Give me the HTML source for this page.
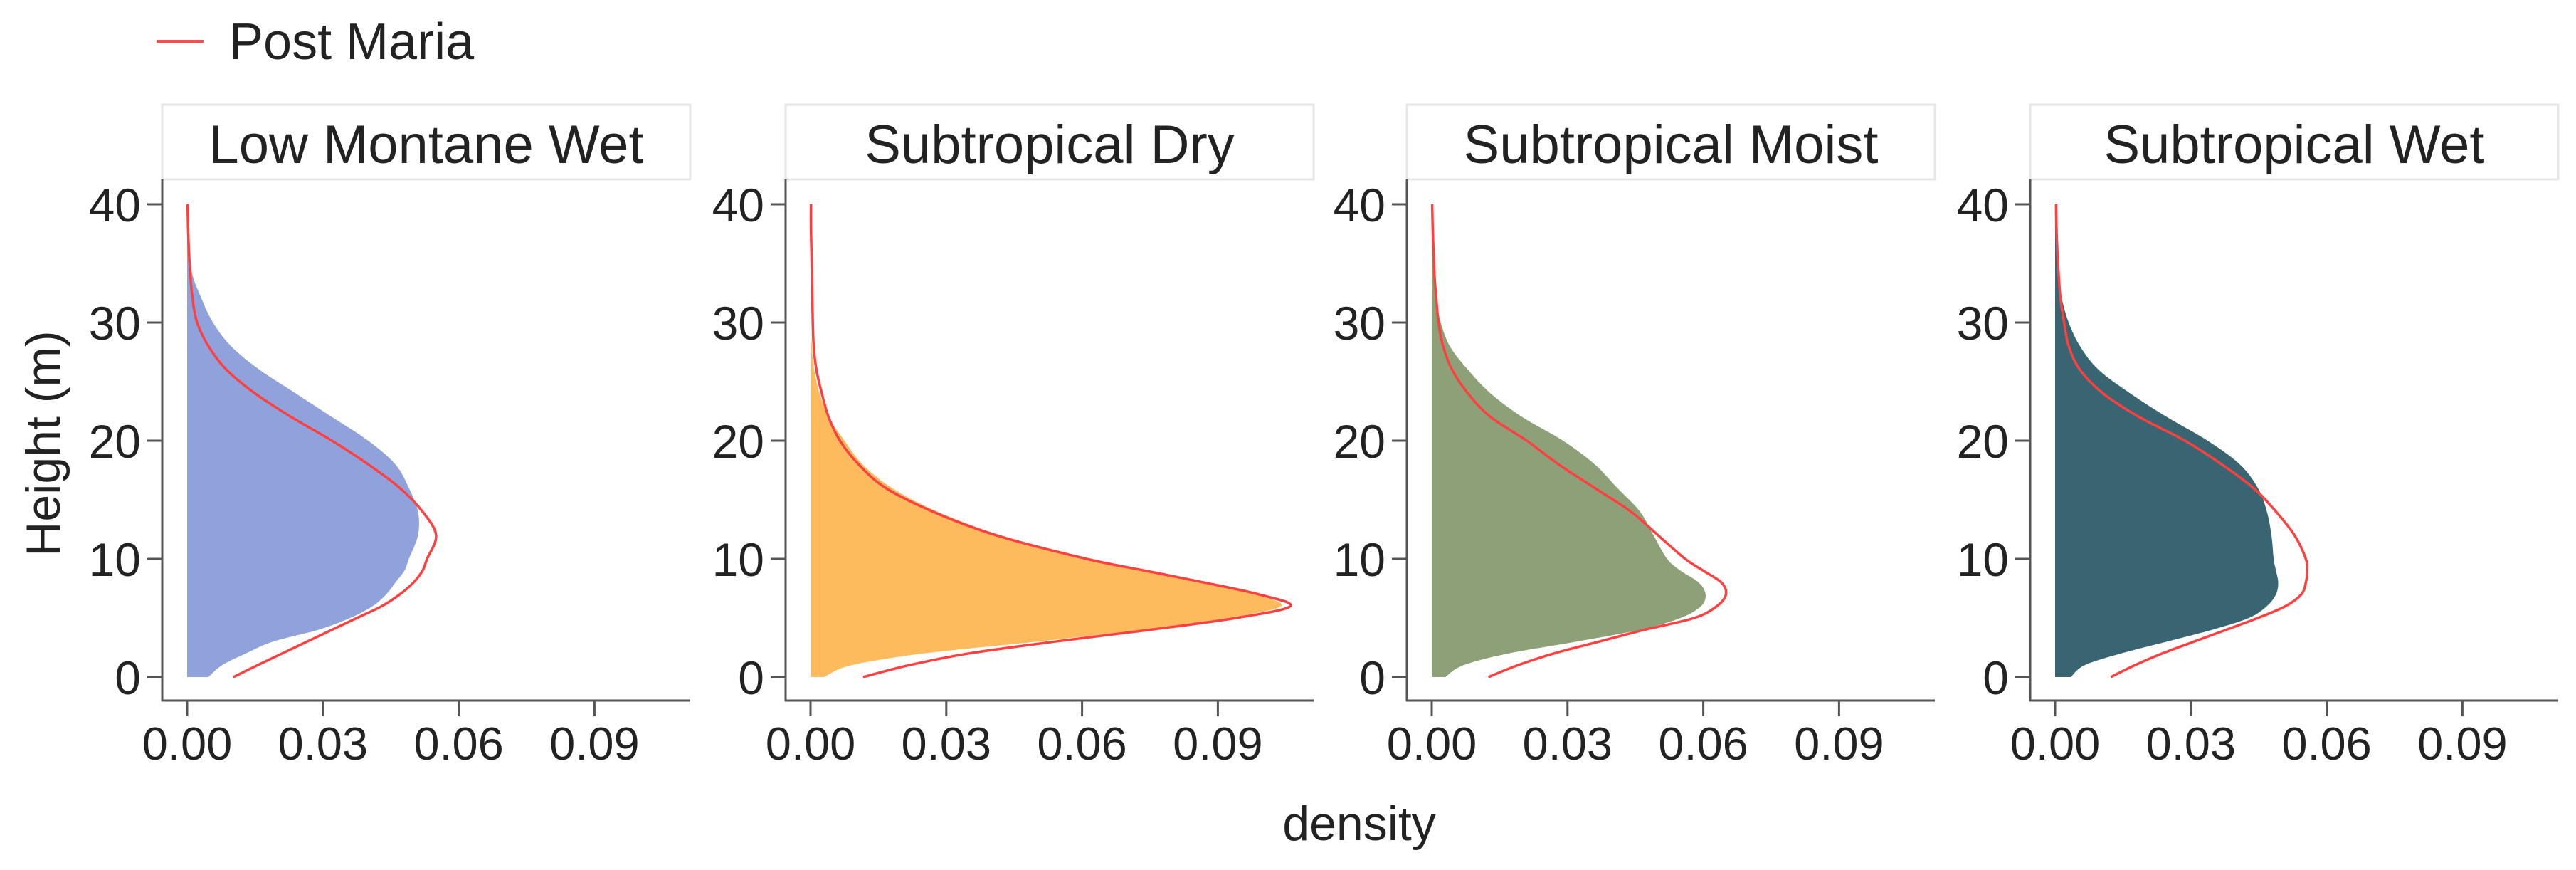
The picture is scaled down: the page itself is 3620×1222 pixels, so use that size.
<!DOCTYPE html>
<html><head><meta charset="utf-8"><style>
html,body{margin:0;padding:0;background:#fff;}
svg{display:block;font-family:"Liberation Sans",sans-serif;}
</style></head><body>
<svg id="chart" width="3620" height="1222" viewBox="0 0 3620 1222" xmlns="http://www.w3.org/2000/svg">
<g>
<line x1="220" y1="58" x2="286" y2="58" stroke="#ff4d4d" stroke-width="4"/>
<text x="322" y="83" font-size="72" fill="#222">Post Maria</text>
</g>
<text transform="translate(84,623) rotate(-90)" text-anchor="middle" font-size="68" fill="#222">Height (m)</text>
<text x="1910" y="1180" text-anchor="middle" font-size="68" fill="#222">density</text>
<g id="panels"></g>
</svg>
<script>
const heights=[0,1,2,3,4,5,6,7,8,9,10,12,14,16,18,20,22,24,26,28,30,32,34,36,38,40];
const panelNames=["Low Montane Wet","Subtropical Dry","Subtropical Moist","Subtropical Wet"];
const panelColors=["#8fa2db","#fdbb5d","#8da077","#386571"];
const fillLMW=[.0047,.0077,.013,.019,.029,.036,.041,.044,.046,.048,.049,.051,.051,.049,.046,.040,.032,.024,.016,.0097,.0057,.0032,.0012,.0005,.0002,0];
const lineLMW=[.0102,.0155,.021,.0265,.032,.0375,.043,.047,.050,.052,.053,.055,.052,.047,.040,.032,.023,.015,.0087,.0047,.0022,.0012,.0007,.0004,.0002,.0001];
const fillSD=[.003,.009,.025,.05,.073,.092,.104,.098,.086,.073,.061,.042,.028,.018,.0115,.0075,.004,.002,.0008,.0003,.0001,.0001,0,0,0,0];
const lineSD=[.0116,.0217,.035,.054,.075,.094,.106,.099,.087,.074,.061,.041,.027,.0166,.0106,.0065,.004,.0025,.0013,.0007,.0005,.0004,.0003,.0002,.0001,.0001];
const fillSM=[.003,.007,.017,.032,.046,.055,.0595,.0605,.059,.055,.052,.049,.046,.041,.036,.029,.020,.013,.008,.004,.002,.001,.0005,.0002,.0001,0];
const lineSM=[.0125,.019,.027,.037,.047,.058,.063,.065,.064,.060,.056,.050,.044,.036,.028,.021,.013,.008,.0045,.0025,.0015,.001,.0006,.0004,.0002,.0001];
const fillSW=[.0035,.0065,.0146,.0247,.0347,.0428,.0468,.0488,.0493,.0488,.0483,.0478,.0468,.0448,.0408,.0337,.0247,.0166,.0096,.0055,.003,.0015,.0007,.0003,.0001,0];
const lineSW=[.0123,.0176,.0237,.0307,.0378,.0448,.0509,.0544,.0554,.0557,.0554,.0529,.0488,.0438,.0368,.0287,.0186,.0106,.0055,.003,.002,.0012,.0008,.0005,.0003,.0002];
const yTicks=[0,10,20,30,40];
const xTicks=[0,0.03,0.06,0.09];
const xTickLabels=["0.00","0.03","0.06","0.09"];

const fills=[fillLMW,fillSD,fillSM,fillSW];
const lines=[lineLMW,lineSD,lineSM,lineSW];
const lefts=[228,1104,1977,2853];
const W=742;
const NS="http://www.w3.org/2000/svg";
const root=document.getElementById('panels');
function yScale(h){return 951-(h/40)*664;}
function mk(tag,attrs,parent){const e=document.createElementNS(NS,tag);for(const k in attrs)e.setAttribute(k,attrs[k]);parent.appendChild(e);return e;}
function linePath(xs,vals){
  const pts=heights.map((h,i)=>[xs(vals[i]),yScale(h)]);
  let d="M"+pts[0][0]+","+pts[0][1];
  for(let i=0;i<pts.length-1;i++){
    const p0=pts[Math.max(0,i-1)],p1=pts[i],p2=pts[i+1],p3=pts[Math.min(pts.length-1,i+2)];
    const c1x=p1[0]+(p2[0]-p0[0])/6,c1y=p1[1]+(p2[1]-p0[1])/6;
    const c2x=p2[0]-(p3[0]-p1[0])/6,c2y=p2[1]-(p3[1]-p1[1])/6;
    d+=" C"+c1x.toFixed(1)+","+c1y.toFixed(1)+" "+c2x.toFixed(1)+","+c2y.toFixed(1)+" "+p2[0].toFixed(1)+","+p2[1].toFixed(1);
  }
  return d;
}
panelNames.forEach((name,p)=>{
  const L=lefts[p];
  const xs=v=>L+35+v*6360;
  const g=mk('g',{},root);
  
  
  const strip=mk('rect',{x:L,y:147,width:W,height:105,fill:"#fff",stroke:"#e6e6e6","stroke-width":3},g);
  
  
  const st=mk('text',{x:L+W/2,y:229,"text-anchor":"middle","font-size":76,fill:"#222"},g);
  st.textContent=name;
  
  
  const fd=linePath(xs,fills[p])+" L"+xs(0)+","+yScale(40)+" L"+xs(0)+","+yScale(0)+" Z";
  const area=mk('path',{d:fd,fill:panelColors[p],stroke:"none"},g);
  
  
  const ln=mk('path',{d:linePath(xs,lines[p]),fill:"none",stroke:"#ff4040","stroke-width":3.5},g);
  
  
  const ya=mk('line',{x1:L,y1:252,x2:L,y2:985,stroke:"#555","stroke-width":3},g);
  
  
  const xa=mk('line',{x1:L-1,y1:984,x2:L+W,y2:984,stroke:"#555","stroke-width":3},g);
  
  
  yTicks.forEach(t=>{
    const y=yScale(t);
    const tk=mk('line',{x1:L-21,y1:y,x2:L,y2:y,stroke:"#555","stroke-width":3},g);
    
    
    const tl=mk('text',{x:L-30,y:y+24,"text-anchor":"end","font-size":66,fill:"#222"},g);
    tl.textContent=String(t);
    
    
  });
  xTicks.forEach((t,i)=>{
    const x=xs(t);
    const tk=mk('line',{x1:x,y1:984,x2:x,y2:1006,stroke:"#555","stroke-width":3},g);
    
    
    const tl=mk('text',{x:x,y:1067,"text-anchor":"middle","font-size":65,fill:"#222"},g);
    tl.textContent=xTickLabels[i];
    
    
  });
});
</script>
</body></html>
